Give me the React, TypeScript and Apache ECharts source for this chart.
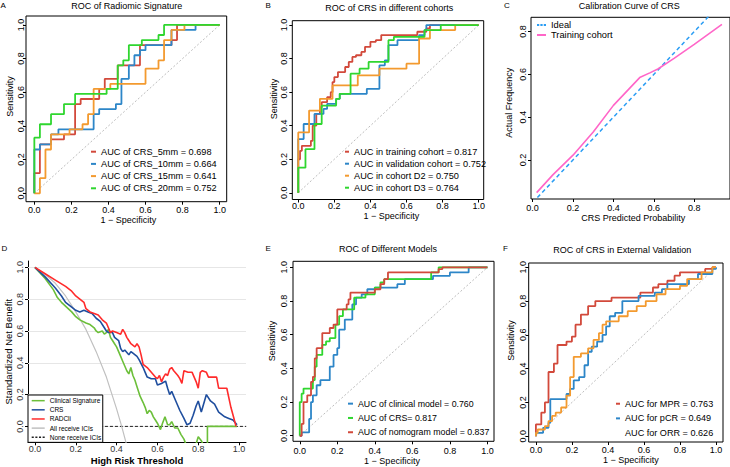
import React, { useEffect, useRef } from 'react';
import * as echarts from 'echarts';

const FONT = '"Liberation Sans", Arial, Helvetica, sans-serif';

// ---------- tick values ----------
const ticks01 = [0, 0.2, 0.4, 0.6, 0.8, 1.0];
const ticksCx = [0, 0.2, 0.4, 0.6, 0.8];
const ticksCy = [0.2, 0.4, 0.6, 0.8];
const gridLevelsD = [0, 0.2, 0.4, 0.6, 0.8, 1.0];

// ---------- Panel A : ROC of Radiomic Signature ----------
const rocA5mm = [[0,0],[0,0.12],[0.03,0.12],[0.03,0.29],[0.09,0.29],[0.09,0.32],[0.16,0.32],[0.16,0.35],[0.22,0.35],[0.22,0.53],[0.25,0.53],[0.25,0.56],[0.35,0.56],[0.35,0.62],[0.38,0.62],[0.38,0.68],[0.45,0.68],[0.45,0.76],[0.57,0.76],[0.57,0.88],[0.74,0.88],[0.74,0.91],[0.77,0.91],[0.77,1],[1,1]];
const rocA10mm = [[0,0],[0,0.26],[0.03,0.26],[0.03,0.29],[0.09,0.29],[0.09,0.35],[0.13,0.35],[0.13,0.38],[0.32,0.38],[0.32,0.47],[0.35,0.47],[0.35,0.5],[0.44,0.5],[0.44,0.53],[0.47,0.53],[0.47,0.68],[0.51,0.68],[0.51,0.76],[0.54,0.76],[0.54,0.82],[0.57,0.82],[0.57,0.85],[0.6,0.85],[0.6,0.88],[0.74,0.88],[0.74,0.97],[0.87,0.97],[0.87,1],[1,1]];
const rocA15mm = [[0,0],[0.03,0],[0.03,0.09],[0.06,0.09],[0.06,0.26],[0.09,0.26],[0.09,0.35],[0.19,0.35],[0.19,0.38],[0.26,0.38],[0.26,0.41],[0.29,0.41],[0.29,0.47],[0.32,0.47],[0.32,0.62],[0.41,0.62],[0.41,0.65],[0.6,0.65],[0.6,0.74],[0.67,0.74],[0.67,0.79],[0.7,0.79],[0.7,0.91],[0.74,0.91],[0.74,0.97],[0.81,0.97],[0.81,1],[1,1]];
const rocA20mm = [[0,0],[0,0.33],[0.03,0.33],[0.03,0.41],[0.09,0.41],[0.09,0.47],[0.16,0.47],[0.16,0.53],[0.22,0.53],[0.22,0.59],[0.39,0.59],[0.39,0.62],[0.45,0.62],[0.45,0.76],[0.48,0.76],[0.48,0.79],[0.51,0.79],[0.51,0.88],[0.58,0.88],[0.58,0.91],[0.67,0.91],[0.67,0.94],[0.7,0.94],[0.7,1],[1,1]];
const namesA = ['AUC of CRS_5mm = 0.698', 'AUC of CRS_10mm = 0.664', 'AUC of CRS_15mm = 0.641', 'AUC of CRS_20mm = 0.752'];

// ---------- Panel B : ROC of CRS in different cohorts ----------
const rocBTrain = [[0,0],[0,0.2],[0.01,0.2],[0.01,0.25],[0.02,0.25],[0.02,0.28],[0.07,0.28],[0.07,0.31],[0.08,0.31],[0.08,0.4],[0.1,0.4],[0.1,0.47],[0.12,0.47],[0.12,0.51],[0.13,0.51],[0.13,0.54],[0.16,0.54],[0.16,0.57],[0.18,0.57],[0.18,0.6],[0.19,0.6],[0.19,0.66],[0.2,0.66],[0.2,0.69],[0.22,0.69],[0.22,0.72],[0.26,0.72],[0.26,0.75],[0.28,0.75],[0.28,0.78],[0.3,0.78],[0.3,0.81],[0.32,0.81],[0.32,0.82],[0.35,0.82],[0.35,0.84],[0.37,0.84],[0.37,0.87],[0.4,0.87],[0.4,0.9],[0.43,0.9],[0.43,0.91],[0.46,0.91],[0.46,0.94],[0.66,0.94],[0.66,0.96],[0.71,0.96],[0.71,0.98],[0.73,0.98],[0.73,1],[1,1]];
const rocBValid = [[0,0],[0,0.32],[0.03,0.32],[0.03,0.41],[0.09,0.41],[0.09,0.47],[0.14,0.47],[0.14,0.5],[0.16,0.5],[0.16,0.53],[0.21,0.53],[0.21,0.56],[0.23,0.56],[0.23,0.59],[0.38,0.59],[0.38,0.62],[0.45,0.62],[0.45,0.76],[0.48,0.76],[0.48,0.79],[0.5,0.79],[0.5,0.88],[0.55,0.88],[0.55,0.91],[0.67,0.91],[0.67,0.94],[0.7,0.94],[0.7,0.97],[0.71,0.97],[0.71,1],[1,1]];
const rocBD2 = [[0,0],[0,0.36],[0.06,0.36],[0.06,0.49],[0.12,0.49],[0.12,0.56],[0.19,0.56],[0.19,0.64],[0.33,0.64],[0.33,0.7],[0.45,0.7],[0.45,0.74],[0.6,0.74],[0.6,0.77],[0.67,0.77],[0.67,0.92],[0.73,0.92],[0.73,0.97],[0.87,0.97],[0.87,1],[1,1]];
const rocBD3 = [[0,0],[0,0.15],[0.04,0.15],[0.04,0.26],[0.09,0.26],[0.09,0.41],[0.13,0.41],[0.13,0.52],[0.21,0.52],[0.21,0.56],[0.23,0.56],[0.23,0.59],[0.29,0.59],[0.29,0.71],[0.34,0.71],[0.34,0.74],[0.39,0.74],[0.39,0.78],[0.5,0.78],[0.5,0.91],[0.53,0.91],[0.53,0.93],[0.7,0.93],[0.7,0.97],[0.79,0.97],[0.79,1],[1,1]];
const namesB = ['AUC in training cohort = 0.817', 'AUC in validation cohort = 0.752', 'AUC in cohort D2 = 0.750', 'AUC in cohort D3 = 0.764'];

// ---------- Panel C : Calibration Curve of CRS ----------
const calibPredicted = [0.02, 0.1, 0.2, 0.3, 0.4, 0.53, 0.58, 0.62, 0.7, 0.8, 0.937];
const calibActual = [0.047, 0.13, 0.222, 0.33, 0.455, 0.585, 0.607, 0.625, 0.675, 0.74, 0.834];
const idealLine = [[0, 0], [1, 1]];
const namesC = ['Ideal', 'Training cohort'];

// ---------- Panel D : decision curves ----------
const dcaRADCli = [[0,1],[0.05,0.96],[0.1,0.92],[0.15,0.88],[0.18,0.85],[0.2,0.82],[0.22,0.8],[0.24,0.78],[0.25,0.74],[0.27,0.72],[0.29,0.71],[0.31,0.7],[0.33,0.67],[0.35,0.65],[0.36,0.62],[0.37,0.59],[0.38,0.6],[0.4,0.59],[0.42,0.58],[0.43,0.61],[0.44,0.59],[0.45,0.56],[0.46,0.54],[0.47,0.52],[0.49,0.5],[0.5,0.52],[0.51,0.5],[0.52,0.45],[0.53,0.39],[0.55,0.37],[0.57,0.34],[0.59,0.31],[0.6,0.3],[0.61,0.32],[0.62,0.28],[0.63,0.31],[0.64,0.33],[0.65,0.32],[0.66,0.36],[0.67,0.37],[0.68,0.35],[0.7,0.32],[0.71,0.3],[0.72,0.27],[0.73,0.35],[0.75,0.34],[0.77,0.34],[0.79,0.28],[0.8,0.24],[0.81,0.34],[0.82,0.35],[0.84,0.34],[0.85,0.31],[0.89,0.31],[0.9,0.24],[0.94,0.24],[0.96,0.12],[0.975,0.05],[0.985,0]];
const dcaCRS = [[0,1],[0.05,0.94],[0.1,0.87],[0.13,0.82],[0.15,0.78],[0.18,0.75],[0.2,0.73],[0.22,0.72],[0.24,0.73],[0.26,0.72],[0.28,0.71],[0.3,0.68],[0.32,0.66],[0.34,0.62],[0.35,0.6],[0.36,0.59],[0.38,0.59],[0.39,0.56],[0.41,0.54],[0.42,0.49],[0.43,0.47],[0.44,0.48],[0.46,0.45],[0.47,0.47],[0.48,0.46],[0.5,0.44],[0.51,0.42],[0.53,0.37],[0.54,0.34],[0.55,0.31],[0.57,0.3],[0.59,0.3],[0.6,0.26],[0.62,0.27],[0.64,0.285],[0.65,0.24],[0.66,0.2],[0.67,0.22],[0.69,0.16],[0.71,0.1],[0.73,0.05],[0.745,0.01],[0.76,0.02],[0.775,0.07],[0.79,0.13],[0.8,0.16],[0.815,0.09],[0.84,0.2],[0.86,0.16],[0.88,0.14],[0.9,0.09],[0.93,0.06],[0.95,0.05],[0.97,0.04],[0.99,0.01]];
const dcaClinical = [[0,1],[0.05,0.93],[0.09,0.86],[0.11,0.81],[0.13,0.78],[0.155,0.75],[0.18,0.72],[0.2,0.69],[0.22,0.67],[0.25,0.65],[0.27,0.64],[0.29,0.62],[0.3,0.6],[0.31,0.59],[0.33,0.6],[0.34,0.58],[0.35,0.59],[0.36,0.61],[0.37,0.56],[0.38,0.54],[0.39,0.52],[0.4,0.5],[0.41,0.47],[0.42,0.44],[0.43,0.41],[0.44,0.38],[0.45,0.35],[0.46,0.33],[0.47,0.37],[0.48,0.32],[0.49,0.29],[0.5,0.25],[0.515,0.19],[0.53,0.15],[0.54,0.12],[0.55,0.08],[0.56,0.1],[0.57,0.09],[0.58,0.06],[0.59,0.04],[0.6,0.02],[0.615,-0.02],[0.625,0.02],[0.637,0.06],[0.65,0.01],[0.66,0.01],[0.67,0.03],[0.685,-0.01],[0.7,-0.01],[0.715,-0.05],[0.73,-0.08],[0.745,-0.13],[0.785,-0.13],[0.8,-0.065],[0.815,-0.09],[0.83,-0.13],[0.845,-0.13],[0.845,0],[0.99,0]];
const dcaAll = [[0,1],[0.05,0.955],[0.1,0.9],[0.15,0.82],[0.2,0.72],[0.25,0.61],[0.3,0.47],[0.35,0.31],[0.4,0.11],[0.425,0],[0.45,-0.12]];
const dcaNone = [[0,0],[1.035,0]];
const namesD = ['Clinical Signature', 'CRS', 'RADCli', 'All receive ICIs', 'None receive ICIs'];

// ---------- Panel E : ROC of Different Models ----------
const rocEClinical = [[0,0],[0.01,0],[0.01,0.02],[0.05,0.02],[0.05,0.1],[0.06,0.1],[0.06,0.2],[0.07,0.2],[0.07,0.24],[0.09,0.24],[0.09,0.3],[0.11,0.3],[0.11,0.33],[0.16,0.33],[0.16,0.41],[0.18,0.41],[0.18,0.48],[0.2,0.48],[0.2,0.52],[0.21,0.52],[0.21,0.63],[0.24,0.63],[0.24,0.69],[0.28,0.69],[0.28,0.78],[0.3,0.78],[0.3,0.82],[0.33,0.82],[0.33,0.84],[0.36,0.84],[0.36,0.87],[0.4,0.87],[0.4,0.88],[0.52,0.88],[0.52,0.9],[0.56,0.9],[0.56,0.93],[0.71,0.93],[0.71,0.95],[0.8,0.95],[0.8,0.97],[0.9,0.97],[0.9,1],[1,1]];
const rocECRS = [[0,0],[0,0.2],[0.01,0.2],[0.01,0.25],[0.02,0.25],[0.02,0.28],[0.07,0.28],[0.07,0.33],[0.08,0.33],[0.08,0.41],[0.09,0.41],[0.09,0.48],[0.12,0.48],[0.12,0.54],[0.14,0.54],[0.14,0.56],[0.16,0.56],[0.16,0.58],[0.19,0.58],[0.19,0.66],[0.21,0.66],[0.21,0.71],[0.23,0.71],[0.23,0.75],[0.29,0.75],[0.29,0.82],[0.35,0.82],[0.35,0.84],[0.4,0.84],[0.4,0.88],[0.43,0.88],[0.43,0.91],[0.45,0.91],[0.45,0.93],[0.7,0.93],[0.7,0.97],[0.74,0.97],[0.74,1],[1,1]];
const rocENomogram = [[0,0],[0.01,0],[0.01,0.07],[0.02,0.07],[0.02,0.2],[0.04,0.2],[0.04,0.24],[0.06,0.24],[0.06,0.32],[0.07,0.32],[0.07,0.35],[0.08,0.35],[0.08,0.46],[0.09,0.46],[0.09,0.52],[0.12,0.52],[0.12,0.61],[0.16,0.61],[0.16,0.64],[0.18,0.64],[0.18,0.66],[0.2,0.66],[0.2,0.75],[0.25,0.75],[0.25,0.78],[0.26,0.78],[0.26,0.81],[0.27,0.81],[0.27,0.85],[0.4,0.85],[0.4,0.87],[0.43,0.87],[0.43,0.9],[0.45,0.9],[0.45,0.93],[0.47,0.93],[0.47,0.97],[0.74,0.97],[0.74,0.99],[0.76,0.99],[0.76,1],[1,1]];
const namesE = ['AUC of clinical model = 0.760', 'AUC of CRS= 0.817', 'AUC of nomogram model = 0.837'];

// ---------- Panel F : ROC of CRS in External Validation ----------
const rocFMPR = [[0,0],[0,0.07],[0.03,0.07],[0.03,0.14],[0.05,0.14],[0.05,0.2],[0.07,0.2],[0.07,0.38],[0.1,0.38],[0.1,0.43],[0.12,0.43],[0.12,0.54],[0.17,0.54],[0.17,0.56],[0.2,0.56],[0.2,0.59],[0.22,0.59],[0.22,0.66],[0.25,0.66],[0.25,0.72],[0.29,0.72],[0.29,0.77],[0.33,0.77],[0.33,0.8],[0.42,0.8],[0.42,0.82],[0.58,0.82],[0.58,0.85],[0.65,0.85],[0.65,0.88],[0.68,0.88],[0.68,0.9],[0.73,0.9],[0.73,0.92],[0.77,0.92],[0.77,0.95],[0.8,0.95],[0.8,0.97],[0.94,0.97],[0.94,0.99],[0.98,0.99],[0.98,1],[1,1]];
const rocFpCR = [[0,0],[0,0.02],[0.04,0.02],[0.04,0.05],[0.07,0.05],[0.07,0.08],[0.08,0.08],[0.08,0.22],[0.17,0.22],[0.17,0.25],[0.19,0.25],[0.19,0.28],[0.21,0.28],[0.21,0.33],[0.24,0.33],[0.24,0.35],[0.27,0.35],[0.27,0.42],[0.29,0.42],[0.29,0.5],[0.31,0.5],[0.31,0.53],[0.34,0.53],[0.34,0.56],[0.37,0.56],[0.37,0.6],[0.39,0.6],[0.39,0.65],[0.41,0.65],[0.41,0.71],[0.44,0.71],[0.44,0.73],[0.48,0.73],[0.48,0.8],[0.57,0.8],[0.57,0.83],[0.66,0.83],[0.66,0.85],[0.7,0.85],[0.7,0.87],[0.73,0.87],[0.73,0.9],[0.85,0.9],[0.85,0.93],[0.9,0.93],[0.9,0.96],[0.98,0.96],[0.98,0.99],[1,0.99],[1,1]];
const rocFORR = [[0,0],[0,0.02],[0.01,0.02],[0.01,0.04],[0.05,0.04],[0.05,0.06],[0.07,0.06],[0.07,0.09],[0.09,0.09],[0.09,0.12],[0.11,0.12],[0.11,0.14],[0.14,0.14],[0.14,0.17],[0.17,0.17],[0.17,0.24],[0.19,0.24],[0.19,0.35],[0.21,0.35],[0.21,0.47],[0.25,0.47],[0.25,0.49],[0.29,0.49],[0.29,0.52],[0.32,0.52],[0.32,0.57],[0.35,0.57],[0.35,0.61],[0.37,0.61],[0.37,0.66],[0.39,0.66],[0.39,0.68],[0.46,0.68],[0.46,0.71],[0.51,0.71],[0.51,0.74],[0.56,0.74],[0.56,0.77],[0.61,0.77],[0.61,0.8],[0.67,0.8],[0.67,0.84],[0.72,0.84],[0.72,0.87],[0.8,0.87],[0.8,0.89],[0.84,0.89],[0.84,0.93],[0.92,0.93],[0.92,0.97],[0.98,0.97],[0.98,1],[1,1]];
const namesF = ['AUC for MPR = 0.763', 'AUC for pCR = 0.649', 'AUC for ORR = 0.626'];

const chanceLine = [[0, 0], [1, 1]];

// ---------- colours ----------
const RED = '#d2493b';
const BLUE = '#2d86c8';
const ORANGE = '#f39a2f';
const GREEN = '#2fd62f';

const fmt = (v: number) => v.toFixed(1);

type AxP = {
  gi: number; min: number; max: number; ticks: number[]; margin: number;
  name: string; gap: number; pad: number[]; rotate?: number; line?: boolean;
  labelColor?: string; nameStyle?: any;
};
const mkAxis = (p: AxP) => ({
  type: 'value',
  gridIndex: p.gi,
  min: p.min,
  max: p.max,
  axisLine: { show: !!p.line, onZero: false, lineStyle: { color: '#000', width: 1 } },
  axisTick: { show: true, length: 3, customValues: p.ticks, lineStyle: { color: '#000', width: 1 } },
  axisLabel: {
    customValues: p.ticks, formatter: fmt, margin: p.margin, rotate: p.rotate || 0,
    fontSize: 9, color: p.labelColor || '#000', fontFamily: FONT,
  },
  splitLine: { show: false },
  name: p.name,
  nameLocation: 'middle',
  nameGap: p.gap,
  nameTextStyle: {
    fontSize: 9, color: '#000', fontFamily: FONT, padding: p.pad,
    backgroundColor: 'rgba(255,255,255,0)', ...(p.nameStyle || {}),
  },
});

const line = (name: string, data: any, color: string, gi: number, extra: any = {}) => ({
  name, type: 'line', data, xAxisIndex: gi, yAxisIndex: gi,
  symbol: 'none', showSymbol: false, color,
  lineStyle: { color, width: 1.8 },
  z: 3, silent: true, animation: false,
  ...extra,
});

const chance = (gi: number) => ({
  type: 'line', data: chanceLine, xAxisIndex: gi, yAxisIndex: gi, symbol: 'none',
  lineStyle: { color: '#bdbdbd', width: 1, type: [2, 2] }, z: 2, silent: true,
});

const boxGrid = (left: number, top: number, width: number, height: number) => ({
  left, top, width, height, show: true, borderColor: '#000', borderWidth: 1, backgroundColor: 'transparent',
});

const legendBase = (data: any[], left: number, top: number, fontSize: number, lh: number, iw: number, ih = 2) => ({
  data, left, top, orient: 'vertical', itemWidth: iw, itemHeight: ih, itemGap: 0, icon: 'rect',
  padding: 0, selectedMode: false, symbolKeepAspect: false,
  textStyle: { fontSize, lineHeight: lh, color: '#000', fontFamily: FONT },
});

const titleT = (text: string, left: number, top: number, size = 9, center = true) => ({
  text, left, top, padding: 0,
  ...(center ? { textAlign: 'center' } : {}),
  textStyle: { fontSize: size, fontWeight: 'normal', color: '#000', fontFamily: FONT },
});

const DASH_ICON = 'path://M0,0h3v1h-3zM4.5,0h3v1h-3zM9,0h3v1h-3z';
const DASH_ICON_D = 'path://M0,0h2v1h-2zM3.5,0h2v1h-2zM7,0h2v1h-2zM10.5,0h2v1h-2z';

const option: any = {
  animation: false,
  backgroundColor: '#fff',
  textStyle: { fontFamily: FONT },
  title: [
    titleT('A', 0.5, 1, 8, false),
    titleT('ROC of Radiomic Signature', 126.7, 1.2),
    titleT('B', 265.5, 1, 8, false),
    titleT('ROC of CRS in different cohorts', 389.2, 3.5),
    titleT('C', 504, 1, 8, false),
    titleT('Calibration Curve of CRS', 629.3, 1.2),
    titleT('D', 1.5, 244.5, 8, false),
    titleT('E', 265.5, 244.5, 8, false),
    titleT('ROC of Different Models', 388, 244.2),
    titleT('F', 503, 244, 8, false),
    titleT('ROC of CRS in External Validation', 622.3, 245.2),
  ],
  grid: [
    boxGrid(26, 16, 200.7, 185.7),
    boxGrid(292.3, 20.7, 191.4, 178.8),
    boxGrid(531, 17.3, 199, 181.7),
    { left: 28, top: 261, width: 218, height: 181.3, show: false },
    boxGrid(293, 261.3, 201, 180),
    boxGrid(528.7, 263, 194.3, 179),
  ],
  xAxis: [
    mkAxis({ gi: 0, min: -0.045, max: 1.038, ticks: ticks01, margin: 3.8, name: '1 − Specificity', gap: 13.8, pad: [0, 0, 0, 4] }),
    mkAxis({ gi: 1, min: -0.033, max: 1.028, ticks: ticks01, margin: 2, name: '1 − Specificity', gap: 11, pad: [0, 0, 0, 6.6] }),
    mkAxis({ gi: 2, min: -0.008, max: 0.977, ticks: ticksCx, margin: 4.8, name: 'CRS Predicted Probability', gap: 14.8, pad: [0, 0, 0, 5.4] }),
    mkAxis({ gi: 3, min: -0.034, max: 1.034, ticks: ticks01, margin: 2.2, name: 'High Risk Threshold', gap: 13.6, pad: [0, 0, 0, 0], line: true, labelColor: '#333', nameStyle: { fontSize: 9.5, fontWeight: 'bold' } }),
    mkAxis({ gi: 4, min: -0.036, max: 1.035, ticks: ticks01, margin: 5.5, name: '1 − Specificity', gap: 15.5, pad: [0, 3, 0, 0] }),
    mkAxis({ gi: 5, min: -0.04, max: 1.039, ticks: ticks01, margin: 3.8, name: '1 − Specificity', gap: 12.5, pad: [0, 0, 0, 10] }),
  ],
  yAxis: [
    mkAxis({ gi: 0, min: -0.05, max: 1.053, ticks: ticks01, margin: 0.8, rotate: 90, name: 'Sensitivity', gap: 11.5, pad: [0, 0, 0, 24.6] }),
    mkAxis({ gi: 1, min: -0.04, max: 1.026, ticks: ticks01, margin: 4.1, rotate: 90, name: 'Sensitivity', gap: 14.1, pad: [0, 0, 0, 22] }),
    mkAxis({ gi: 2, min: 0.017, max: 0.867, ticks: ticksCy, margin: 3.8, rotate: 90, name: 'Actual Frequency', gap: 17.2, pad: [0, 0, 0, 11] }),
    mkAxis({ gi: 3, min: -0.1, max: 1.04, ticks: ticks01, margin: 3.5, rotate: 90, name: 'Standardized Net Benefit', gap: 15, pad: [0, 0, 0, 0], line: true, labelColor: '#333', nameStyle: { fontSize: 9.5 } }),
    mkAxis({ gi: 4, min: -0.033, max: 1.036, ticks: ticks01, margin: 4.8, rotate: 90, name: 'Sensitivity', gap: 16.2, pad: [0, 0, 0, 20.6] }),
    mkAxis({ gi: 5, min: -0.034, max: 1.025, ticks: ticks01, margin: 1.5, rotate: 90, name: 'Sensitivity', gap: 13.2, pad: [0, 0, 0, 24] }),
  ],
  legend: [
    legendBase(namesA, 91, 145.6, 9.2, 12.2, 5),
    legendBase(namesB, 345, 145.7, 9.2, 12, 4),
    legendBase([{ name: namesC[0], icon: DASH_ICON }, { name: namesC[1] }], 537, 20, 9.3, 10, 9),
    {
      ...legendBase([
        { name: namesD[0] }, { name: namesD[1] }, { name: namesD[2] }, { name: namesD[3] },
        { name: namesD[4], icon: DASH_ICON_D },
      ], 28, 395, 6.5, 9.15, 13, 1.5),
      padding: [1.1, 1.4, 0.5, 3.7],
      backgroundColor: '#fff',
      borderColor: '#000',
      borderWidth: 1,
      z: 10,
    },
    legendBase(namesE, 348, 396.5, 8.8, 14.3, 5),
    legendBase([{ name: namesF[0] }, { name: namesF[1] }, { name: namesF[2], itemStyle: { opacity: 0 } }], 616, 396.4, 9.1, 14.65, 4),
  ],
  series: [
    // A
    chance(0),
    line(namesA[0], rocA5mm, RED, 0),
    line(namesA[1], rocA10mm, BLUE, 0),
    line(namesA[2], rocA15mm, ORANGE, 0),
    line(namesA[3], rocA20mm, GREEN, 0),
    // B
    chance(1),
    line(namesB[0], rocBTrain, RED, 1),
    line(namesB[1], rocBValid, BLUE, 1),
    line(namesB[2], rocBD2, ORANGE, 1),
    line(namesB[3], rocBD3, GREEN, 1),
    // C
    line(namesC[0], idealLine, '#2a9df4', 2, { lineStyle: { color: '#2a9df4', width: 1.5, type: [4, 3] } }),
    line(namesC[1], calibPredicted.map((p, i) => [p, calibActual[i]]), '#ff66c8', 2, { lineStyle: { color: '#ff66c8', width: 1.6 } }),
    // D
    line(namesD[4], dcaNone, '#222222', 3, {
      lineStyle: { color: '#222222', width: 1, type: [3, 2] }, z: 2,
      markLine: {
        silent: true, symbol: 'none', z: 1, animation: false,
        label: { show: false },
        lineStyle: { color: '#e6e6e6', type: 'solid', width: 1 },
        data: gridLevelsD.map((v) => ({ yAxis: v })),
      },
    }),
    line(namesD[3], dcaAll, '#c0c0c0', 3, { lineStyle: { color: '#c0c0c0', width: 1.2 } }),
    line(namesD[0], dcaClinical, '#6cbf3a', 3, { lineStyle: { color: '#6cbf3a', width: 1.6 } }),
    line(namesD[1], dcaCRS, '#1f4e9e', 3, { lineStyle: { color: '#1f4e9e', width: 1.6 } }),
    line(namesD[2], dcaRADCli, '#ff2b2b', 3, { lineStyle: { color: '#ff2b2b', width: 1.6 } }),
    // E
    chance(4),
    line(namesE[0], rocEClinical, BLUE, 4),
    line(namesE[1], rocECRS, GREEN, 4),
    line(namesE[2], rocENomogram, RED, 4),
    // F
    chance(5),
    line(namesF[0], rocFMPR, RED, 5),
    line(namesF[1], rocFpCR, BLUE, 5),
    line(namesF[2], rocFORR, ORANGE, 5),
  ],
};

export default function App() {
  const ref = useRef<HTMLDivElement>(null);
  useEffect(() => {
    if (!ref.current) return;
    const chart = echarts.init(ref.current, null, { renderer: 'svg' });
    chart.setOption(option);
    return () => chart.dispose();
  }, []);
  return (
    <div
      ref={ref}
      style={{ position: 'fixed', left: 0, top: 0, width: 730, height: 467, background: '#fff' }}
    />
  );
}
